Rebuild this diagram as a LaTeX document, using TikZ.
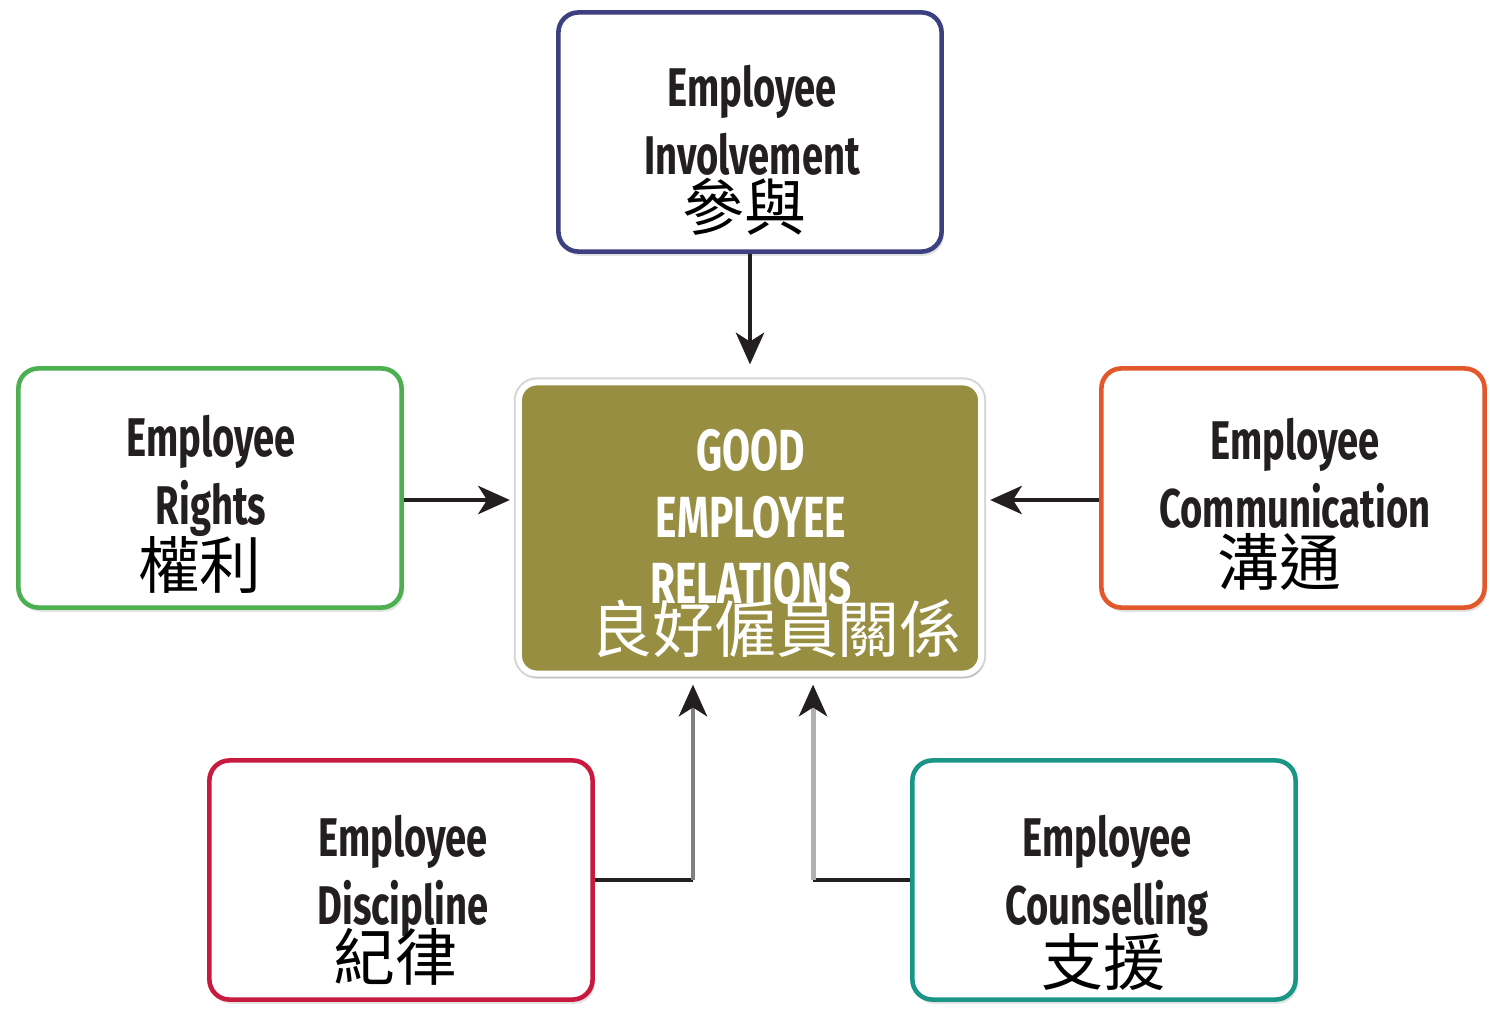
\documentclass[tikz,border=0pt]{standalone}
\usepackage{fontspec}
\usetikzlibrary{arrows.meta,shadows}
\newfontfamily\enfont{Fira Sans}[FakeStretch=0.7]
\newfontfamily\cjk{Noto Sans CJK TC}
\definecolor{inkc}{RGB}{35,31,32}
\definecolor{invc}{RGB}{61,64,128}
\definecolor{rightsc}{RGB}{76,175,80}
\definecolor{commc}{RGB}{226,88,42}
\definecolor{discc}{RGB}{200,25,62}
\definecolor{counsc}{RGB}{26,150,136}
\definecolor{olivec}{RGB}{152,142,66}
\definecolor{shaftA}{RGB}{128,128,128}
\definecolor{shaftB}{RGB}{176,176,176}

\begin{document}
\begin{tikzpicture}[x=0.01cm,y=-0.01cm,
    box/.style={draw=#1, line width=1.3pt, fill=white, rounded corners=0.2cm,
      minimum width=3.83cm, minimum height=2.39cm, inner sep=0pt,
      drop shadow={shadow xshift=0.6pt, shadow yshift=-1.2pt, opacity=0.22}},
    centrebox/.style={draw=white, line width=1.7pt, fill=olivec, rounded corners=0.18cm,
      minimum width=4.62cm, minimum height=2.91cm, inner sep=0pt,
      preaction={draw=black!16, line width=2.9pt},
      drop shadow={shadow xshift=0.6pt, shadow yshift=-1.2pt, opacity=0.25}},
    en/.style={font=\enfont\bfseries\fontsize{15.5}{19.4}\selectfont, text=inkc, align=center, inner sep=0pt},
    title/.style={font=\enfont\bfseries\fontsize{16.5}{18.9}\selectfont, text=white, align=center, inner sep=0pt},
    zh/.style={font=\cjk\fontsize{17.6}{20}\selectfont, text=black, inner sep=0pt},
    arr/.style={line width=1.4pt, draw=inkc, -{Stealth[length=9pt, width=8pt, inset=2.5pt, color=inkc]}},
    link/.style={line width=1.2pt, draw=inkc}]
  \useasboundingbox (0,0) rectangle (1490,1009);

  \node[centrebox] (good) at (750,528) {};
  \node[title] (good-en) at (751,517) {GOOD\\EMPLOYEE\\RELATIONS};
  \node[zh, text=white] (good-zh) at (776,629) {良好僱員關係};

  \node[box=invc] (inv) at (750,132) {};
  \node[en] (inv-en) at (752,120) {Employee\\Involvement};
  \node[zh] (inv-zh) at (744,207) {參與};

  \node[box=rightsc] (rights) at (210,488) {};
  \node[en] (rights-en) at (211,476) {Employee\\Rights};
  \node[zh] (rights-zh) at (200,565) {權利};

  \node[box=commc] (comm) at (1293,488) {};
  \node[en] (comm-en) at (1295,473) {Employee\\Communication};
  \node[zh] (comm-zh) at (1279,562) {溝通};

  \node[box=discc] (disc) at (401,880) {};
  \node[en] (disc-en) at (403,876) {Employee\\Discipline};
  \node[zh] (disc-zh) at (395,957) {紀律};

  \node[box=counsc] (couns) at (1104,880) {};
  \node[en] (couns-en) at (1107,876) {Employee\\Counselling};
  \node[zh] (couns-zh) at (1103,962) {支援};

  \coordinate (dl) at ([xshift=-0.57cm]good.south);
  \coordinate (dr) at ([xshift=0.63cm]good.south);

  \draw[arr, shorten >=0.15cm] (inv.south) -- (good.north);
  \draw[arr, shorten >=0.06cm] ([yshift=-0.12cm]rights.east) -- ([yshift=-0.12cm]rights.east -| good.west);
  \draw[arr, shorten >=0.06cm] ([yshift=-0.12cm]comm.west) -- ([yshift=-0.12cm]comm.west -| good.east);
  \draw[link] (disc.east) -- (disc.east -| dl);
  \draw[arr, draw=shaftA, shorten >=0.08cm] (disc.east -| dl) -- (dl);
  \draw[link] (couns.west) -- (couns.west -| dr);
  \draw[arr, draw=shaftB, shorten >=0.08cm] (couns.west -| dr) -- (dr);
\end{tikzpicture}
\end{document}
